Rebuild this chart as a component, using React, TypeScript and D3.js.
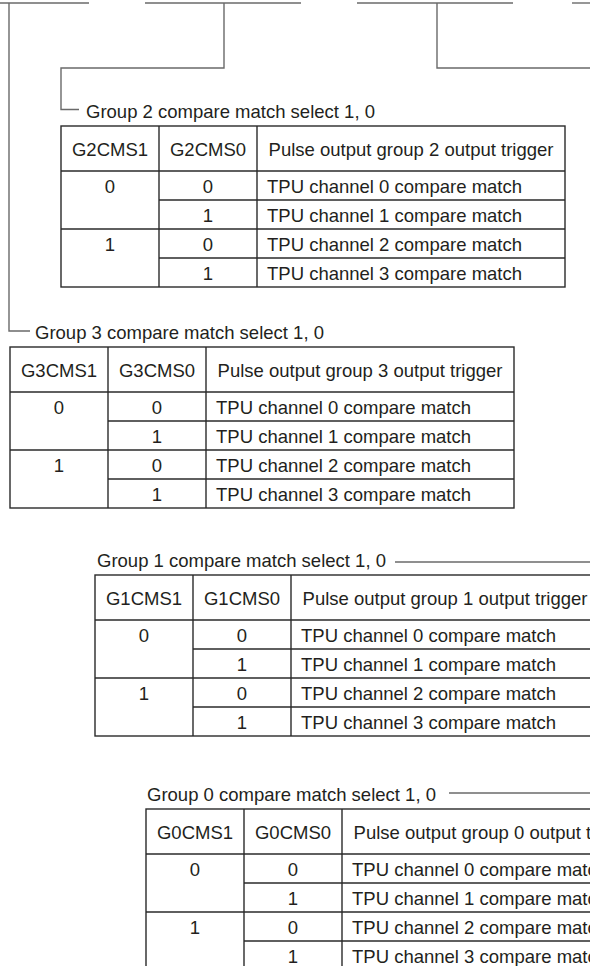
import React from "react";
import * as d3 from "d3";

// ---- data ----
const groupIds = ["3", "2", "1", "0"];
const cms1Values = ["0", "1"];
const cms0Values = ["0", "1", "0", "1"];
const triggerSources = [
  "TPU channel 0 compare match",
  "TPU channel 1 compare match",
  "TPU channel 2 compare match",
  "TPU channel 3 compare match",
];
const headerSuffixes = ["CMS1", "CMS0"];

// ---- layout ----
const W = 590;
const H = 966;
const FONT = "'Liberation Sans', Arial, Helvetica, sans-serif";
const FS = 18.5;
const TXT = "#231f20";
const LINE = "#2a2a2a";
const CONN = "#6a6a6a";

const colWidths = [98, 98, 308];
const headerH = 45;
const rowH = 29;

type TablePos = { id: string; left: number; top: number; labelX: number };
const tablePos: TablePos[] = [
  { id: "3", left: 10, top: 347, labelX: 35 },
  { id: "2", left: 61, top: 126, labelX: 86 },
  { id: "1", left: 95, top: 575, labelX: 97 },
  { id: "0", left: 146, top: 809, labelX: 147 },
];

function Table({ p }: { p: TablePos }) {
  const xEdges = [p.left];
  colWidths.forEach((w) => xEdges.push(xEdges[xEdges.length - 1] + w));
  const headerBottom = p.top + headerH;
  const y = d3.scaleLinear().domain([0, 4]).range([headerBottom, headerBottom + 4 * rowH]);
  const right = xEdges[3];
  const bottom = y(4);
  const lw = 1.4;
  const label = `Group ${p.id} compare match select 1, 0`;
  const headers = [
    `G${p.id}${headerSuffixes[0]}`,
    `G${p.id}${headerSuffixes[1]}`,
    `Pulse output group ${p.id} output trigger`,
  ];
  const cx = (i: number) => (xEdges[i] + xEdges[i + 1]) / 2;
  return (
    <g>
      <text x={p.labelX} y={p.top - 8} fontSize={FS} fill={TXT} fontFamily={FONT}>
        {label}
      </text>
      {/* outer frame */}
      <rect x={p.left} y={p.top} width={right - p.left} height={bottom - p.top} fill="none" stroke={LINE} strokeWidth={lw} />
      {/* vertical lines */}
      {[1, 2].map((i) => (
        <line key={"v" + i} x1={xEdges[i]} x2={xEdges[i]} y1={p.top} y2={bottom} stroke={LINE} strokeWidth={lw} />
      ))}
      {/* header bottom & row lines */}
      {[0, 1, 2, 3].map((r) => {
        const full = r === 0 || r === 2;
        return (
          <line key={"h" + r} x1={full ? p.left : xEdges[1]} x2={right} y1={y(r)} y2={y(r)} stroke={LINE} strokeWidth={lw} />
        );
      })}
      {/* headers */}
      {headers.map((h, i) => (
        <text key={"hd" + i} x={cx(i)} y={p.top + headerH / 2 + 7} textAnchor="middle" fontSize={FS} fill={TXT} fontFamily={FONT}>
          {h}
        </text>
      ))}
      {/* CMS1 values */}
      {cms1Values.map((v, i) => (
        <text key={"a" + i} x={cx(0)} y={y(i * 2) + rowH / 2 + 7} textAnchor="middle" fontSize={FS} fill={TXT} fontFamily={FONT}>
          {v}
        </text>
      ))}
      {cms0Values.map((v, i) => (
        <text key={"b" + i} x={cx(1)} y={y(i) + rowH / 2 + 7} textAnchor="middle" fontSize={FS} fill={TXT} fontFamily={FONT}>
          {v}
        </text>
      ))}
      {triggerSources.map((t, i) => (
        <text key={"c" + i} x={xEdges[2] + 10} y={y(i) + rowH / 2 + 7} fontSize={FS} fill={TXT} fontFamily={FONT}>
          {t}
        </text>
      ))}
    </g>
  );
}

export default function App() {
  const topSegs: [number, number][] = [
    [0, 89],
    [145, 301],
    [357, 513],
    [572, 590],
  ];
  const cw = 1.4;
  return (
    <svg width={W} height={H} style={{ position: "absolute", left: 0, top: 0, background: "#fff" }}>
      <rect x={0} y={0} width={W} height={H} fill="#fff" />
      {/* top register lines */}
      {topSegs.map(([a, b], i) => (
        <line key={i} x1={a} x2={b} y1={3} y2={3} stroke={CONN} strokeWidth={cw} />
      ))}
      {/* group 3 connector */}
      <polyline points="9,3 9,331 30,331" fill="none" stroke={CONN} strokeWidth={cw} />
      {/* group 2 connector */}
      <polyline points="224,3 224,68 61,68 61,109.5 79,109.5" fill="none" stroke={CONN} strokeWidth={cw} />
      {/* right connector */}
      <polyline points="437,3 437,68 590,68" fill="none" stroke={CONN} strokeWidth={cw} />
      {/* group 1 line */}
      <line x1={395} x2={590} y1={562} y2={562} stroke={CONN} strokeWidth={cw} />
      {/* group 0 line */}
      <line x1={449} x2={590} y1={793} y2={793} stroke={CONN} strokeWidth={cw} />
      {groupIds.map((g) => {
        const p = tablePos.find((t) => t.id === g)!;
        return <Table key={g} p={p} />;
      })}
    </svg>
  );
}
